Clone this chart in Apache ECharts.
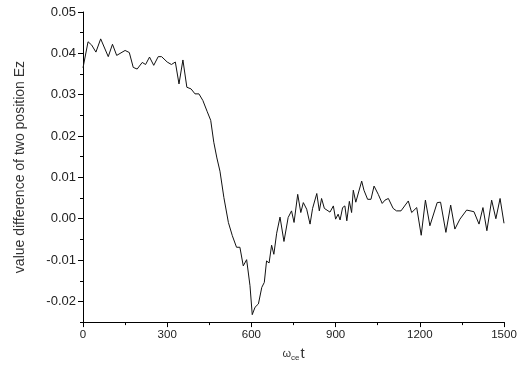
<!DOCTYPE html>
<html>
<head>
<meta charset="utf-8">
<script src="https://cdn.jsdelivr.net/npm/echarts@6/dist/echarts.min.js"></script>
<style>
  html, body { margin: 0; padding: 0; background: #fff; }
  #chart { width: 525px; height: 367px; }
</style>
</head>
<body>
<div id="chart"></div>
<script>
// time (ω_ce t) and Ez difference
const tVals = [0, 18, 31, 46, 63, 90, 105, 120, 150, 165, 179, 193, 211, 223, 237, 252, 268, 280, 300, 315,
  329, 342, 356, 370, 385, 399, 413, 427, 442, 455, 466, 477, 488, 502, 518, 532, 547, 559, 571, 583,
  595, 603, 613, 625, 637, 646, 654, 663, 672, 680, 690, 702, 716, 731, 743, 752, 765, 776, 785, 797,
  809, 818, 824, 833, 842, 850, 860, 880, 892, 900, 909, 916, 925, 933, 940, 949, 957, 963, 972, 993,
  1001, 1007, 1014, 1026, 1037, 1052, 1066, 1076, 1088, 1105, 1117, 1133, 1159, 1171, 1189, 1205, 1220, 1236, 1262, 1274,
  1293, 1310, 1325, 1343, 1367, 1393, 1411, 1425, 1439, 1456, 1471, 1486, 1500]
const ezDiff = [0.0365, 0.0428, 0.042, 0.0403, 0.0435, 0.0392, 0.0422, 0.0395, 0.0407, 0.0402, 0.0366, 0.0362, 0.0378, 0.0373, 0.0391, 0.0371, 0.0392, 0.0392, 0.0379, 0.0373,
  0.0379, 0.0326, 0.0384, 0.0318, 0.0314, 0.0302, 0.0302, 0.0286, 0.026, 0.0238, 0.0185, 0.0147, 0.0115, 0.0051, -0.0009, -0.0041, -0.0069, -0.0069, -0.0114, -0.0099,
  -0.0162, -0.0232, -0.0214, -0.0206, -0.0166, -0.0154, -0.0102, -0.0107, -0.0064, -0.0086, -0.0035, 0.0004, -0.0055, 0.0003, 0.0019, -0.0009, 0.0059, 0.0015, 0.0039, 0.0023,
  -0.0013, 0.0025, 0.0025, 0.0061, 0.0019, 0.0049, 0.0025, 0.0016, 0.0031, -0.0001, 0.0011, -0.0003, 0.0027, 0.0031, -0.0005, 0.0042, 0.0015, 0.0069, 0.004, 0.0091,
  0.0069, 0.0071, 0.0047, 0.0047, 0.0079, 0.0059, 0.0037, 0.0045, 0.0049, 0.0025, 0.0019, 0.0019, 0.0043, 0.0015, 0.0027, -0.004, 0.0045, -0.0017, 0.0039, 0.004,
  -0.0033, 0.0033, -0.0025, -0.0001, 0.0021, 0.0017, -0.0013, 0.0027, -0.0029, 0.0045, 0.0000, 0.0049, -0.0011]
const yMajorTicks = [-0.02, -0.01, 0, 0.01, 0.02, 0.03, 0.04, 0.05]

const font = 'Liberation Sans, Arial, sans-serif'
const chart = echarts.init(document.getElementById('chart'))

const yBase = {
  type: 'value',
  min: -0.025,
  max: 0.05,
  interval: 0.005,
  splitLine: { show: false }
}

const option = {
  animation: false,
  grid: { left: 83, right: 21, top: 12, bottom: 41 },
  xAxis: {
    type: 'value',
    min: 0,
    max: 1500,
    interval: 300,
    name: '{w|ω}{s|ce}{t|t}',
    nameLocation: 'middle',
    nameGap: 17,
    nameTextStyle: {
      rich: {
        w: { fontFamily: font, fontSize: 11, color: '#333' },
        s: { fontFamily: font, fontSize: 8, color: '#333', padding: [9, 1, 0, 0] },
        t: { fontFamily: font, fontSize: 15, color: '#333' }
      }
    },
    axisLine: { onZero: false, lineStyle: { color: '#000', width: 1 } },
    axisTick: { inside: false, length: 5, lineStyle: { color: '#000' } },
    minorTick: { show: true, splitNumber: 2, length: 3, lineStyle: { color: '#000' } },
    axisLabel: { fontFamily: font, fontSize: 11.5, color: '#222', margin: 7, formatter: v => String(v) },
    splitLine: { show: false }
  },
  yAxis: [
    Object.assign({}, yBase, {
      name: 'value difference of two position Ez',
      nameLocation: 'middle',
      nameGap: 56,
      nameTextStyle: { fontFamily: font, fontSize: 14, color: '#333' },
      axisLine: { show: true, onZero: false, lineStyle: { color: '#000', width: 1 } },
      axisTick: { length: 5, customValues: yMajorTicks, lineStyle: { color: '#000' } },
      axisLabel: {
        fontFamily: font, fontSize: 13, color: '#222', margin: 7,
        customValues: yMajorTicks,
        formatter: v => v.toFixed(2)
      }
    }),
    Object.assign({}, yBase, {
      position: 'left',
      axisLine: { show: false, onZero: false },
      axisTick: { length: 3, lineStyle: { color: '#000' } },
      axisLabel: { show: false }
    })
  ],
  series: [
    {
      type: 'line',
      yAxisIndex: 0,
      data: tVals.map((t, i) => [t, ezDiff[i]]),
      showSymbol: false,
      lineStyle: { color: '#111', width: 1 }
    }
  ]
}

chart.setOption(option)
</script>
</body>
</html>
